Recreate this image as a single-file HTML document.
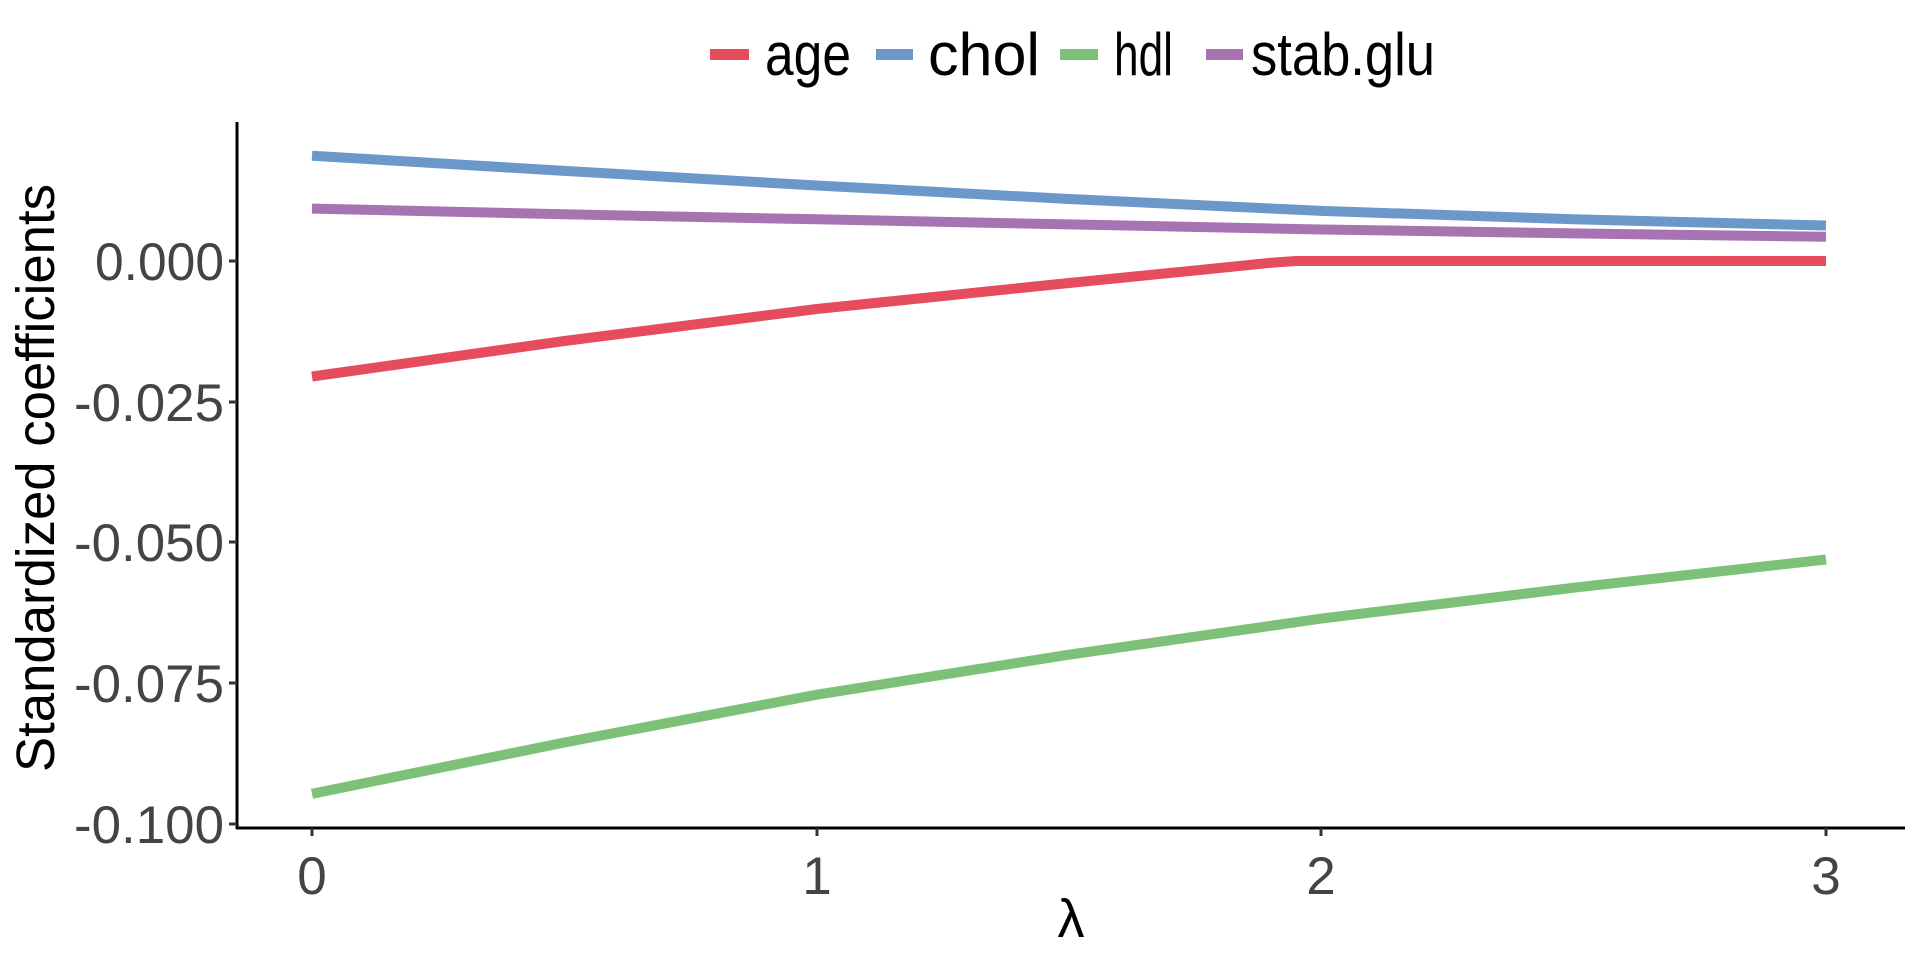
<!DOCTYPE html>
<html><head><meta charset="utf-8"><style>
html,body{margin:0;padding:0;background:#fff;}
svg{display:block;}
text{font-family:"Liberation Sans",Arial,sans-serif;}
</style></head><body>
<svg width="1920" height="960" viewBox="0 0 1920 960" xmlns="http://www.w3.org/2000/svg">
<rect width="1920" height="960" fill="#fff"/>
<!-- legend -->
<g>
<rect x="710" y="49" width="39" height="11" fill="#E64B5E"/>
<text x="765" y="75" font-size="60" fill="#000" textLength="86" lengthAdjust="spacingAndGlyphs">age</text>
<rect x="876" y="49" width="37" height="11" fill="#6A98C8"/>
<text x="928" y="75" font-size="60" fill="#000" textLength="112" lengthAdjust="spacingAndGlyphs">chol</text>
<rect x="1060" y="49" width="38" height="11" fill="#7DC178"/>
<text x="1114" y="75" font-size="60" fill="#000" textLength="59" lengthAdjust="spacingAndGlyphs">hdl</text>
<rect x="1206" y="49" width="37" height="11" fill="#A873B3"/>
<text x="1251" y="75" font-size="60" fill="#000" textLength="184" lengthAdjust="spacingAndGlyphs">stab.glu</text>
</g>
<!-- axes -->
<line x1="237" y1="122" x2="237" y2="829" stroke="#000" stroke-width="3"/>
<line x1="236" y1="828" x2="1905" y2="828" stroke="#000" stroke-width="3"/>
<g stroke="#333" stroke-width="3">
<line x1="229" y1="261" x2="237" y2="261"/>
<line x1="229" y1="402" x2="237" y2="402"/>
<line x1="229" y1="542" x2="237" y2="542"/>
<line x1="229" y1="683" x2="237" y2="683"/>
<line x1="229" y1="824" x2="237" y2="824"/>
<line x1="312" y1="828" x2="312" y2="836"/>
<line x1="817" y1="828" x2="817" y2="836"/>
<line x1="1321" y1="828" x2="1321" y2="836"/>
<line x1="1826" y1="828" x2="1826" y2="836"/>
</g>
<g font-size="53" fill="#444" text-anchor="end">
<text x="224" y="280" textLength="129" lengthAdjust="spacingAndGlyphs">0.000</text>
<text x="224" y="421" textLength="150" lengthAdjust="spacingAndGlyphs">-0.025</text>
<text x="224" y="561" textLength="150" lengthAdjust="spacingAndGlyphs">-0.050</text>
<text x="224" y="702" textLength="150" lengthAdjust="spacingAndGlyphs">-0.075</text>
<text x="224" y="843" textLength="150" lengthAdjust="spacingAndGlyphs">-0.100</text>
</g>
<g font-size="53" fill="#444" text-anchor="middle">
<text x="312" y="894">0</text>
<text x="817" y="894">1</text>
<text x="1321" y="894">2</text>
<text x="1826" y="894">3</text>
</g>
<text transform="translate(54,478) rotate(-90)" font-size="54" fill="#000" text-anchor="middle" textLength="588" lengthAdjust="spacingAndGlyphs">Standardized coefficients</text>
<text x="1071" y="937" font-size="54" fill="#000" text-anchor="middle" font-family="Liberation Serif,serif">λ</text>
<!-- series -->
<g fill="none" stroke-width="10" stroke-linejoin="round">
<polyline stroke="#6A98C8" points="312,155.7 564.4,170.9 816.7,185.5 1069,199 1321.4,210.9 1573.7,219.3 1826,225.5"/>
<polyline stroke="#A873B3" points="312,208.6 564.4,214.3 816.7,219.3 1069,224.4 1321.4,229.5 1573.7,233.4 1826,236.8"/>
<polyline stroke="#E64B5E" points="312,376.5 564.4,341 816.7,309 1069,283 1200,270 1271,262.7 1296,261 1826,261"/>
<polyline stroke="#7DC178" points="312,793.8 564.4,742.5 816.7,694.7 1069,654.7 1321.4,618.6 1573.7,587.7 1826,559.5"/>
</g>
</svg>
</body></html>
